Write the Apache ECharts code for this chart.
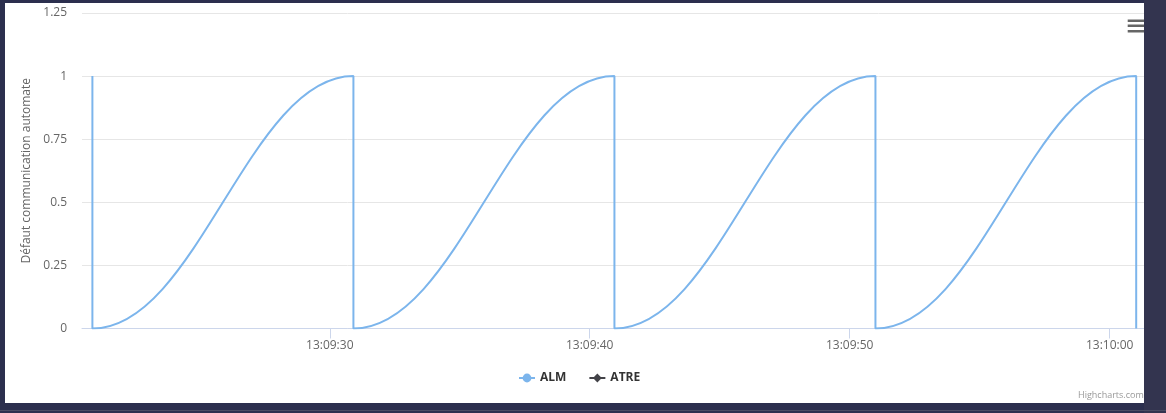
<!DOCTYPE html>
<html>
<head>
<meta charset="utf-8">
<script src="https://cdn.jsdelivr.net/npm/echarts@6/dist/echarts.min.js"></script>
<style>
  html, body { margin: 0; padding: 0; width: 1166px; height: 413px; overflow: hidden; background: #2c2f4e; }
  #rightband { position: absolute; left: 1144px; top: 0; width: 22px; height: 413px; background: #33344f; }
  #bottomline { position: absolute; left: 0; top: 410px; width: 1166px; height: 1px; background: #4a4c63; }
  #chart { position: absolute; left: 5px; top: 3px; width: 1139px; height: 400px; background: #ffffff; }
</style>
</head>
<body>
<div id="rightband"></div>
<div id="bottomline"></div>
<div id="chart"></div>
<script>
// ---- data ----
const chartDay = [2024, 0, 1];
const seriesNames = ['ALM', 'ATRE'];
const almTimes = [
  '13:09:20.870', '13:09:20.870',
  '13:09:30.910', '13:09:30.910',
  '13:09:40.950', '13:09:40.950',
  '13:09:50.990', '13:09:50.990',
  '13:10:01.020', '13:10:01.020'
];
const almValues = [1, 0, 1, 0, 1, 0, 1, 0, 1, 0];
const atreTimes = [];
const atreValues = [];
const xTickLabels = ['13:09:30', '13:09:40', '13:09:50', '13:10:00'];
const xRange = ['13:09:20.470', '13:10:01.320'];
const yTicks = [0, 0.25, 0.5, 0.75, 1, 1.25];
const yTitle = 'Défaut communication automate';
const creditText = 'Highcharts.com';

function toMs(s) {
  const p = s.split(':');
  const sec = parseFloat(p[2]);
  const whole = Math.floor(sec);
  const ms = Math.round((sec - whole) * 1000);
  return Date.UTC(chartDay[0], chartDay[1], chartDay[2], +p[0], +p[1], whole, ms);
}
function pairs(times, vals) { return times.map((t, i) => [toMs(t), vals[i]]); }

const chart = echarts.init(document.getElementById('chart'), null, { renderer: 'canvas' });
const FONT = '"Open Sans", "DejaVu Sans", sans-serif';

chart.setOption({
  useUTC: true,
  animation: false,
  backgroundColor: '#ffffff',
  grid: { left: 77, right: 0, top: 10, bottom: 74.5, containLabel: false },
  xAxis: {
    type: 'time',
    min: toMs(xRange[0]),
    max: toMs(xRange[1]),
    axisLine: { show: true, lineStyle: { color: '#ccd6eb', width: 1 } },
    axisTick: { show: true, length: 10, lineStyle: { color: '#ccd6eb' }, customValues: xTickLabels.map(toMs) },
    axisLabel: {
      customValues: xTickLabels.map(toMs),
      formatter: '{HH}:{mm}:{ss}',
      color: '#666666', fontSize: 12, fontFamily: FONT, margin: 11
    },
    splitLine: { show: false }
  },
  yAxis: {
    type: 'value',
    min: yTicks[0],
    max: yTicks[yTicks.length - 1],
    interval: yTicks[1] - yTicks[0],
    name: yTitle,
    nameLocation: 'middle',
    nameRotate: 90,
    nameGap: 47,
    nameTextStyle: { color: '#666666', fontSize: 12, fontFamily: FONT },
    axisLine: { show: false },
    axisTick: { show: false },
    axisLabel: { color: '#666666', fontSize: 12, fontFamily: FONT, margin: 15 },
    splitLine: { show: true, lineStyle: { color: '#e6e6e6', width: 1 } }
  },
  legend: {
    data: seriesNames,
    left: 508,
    top: 364,
    itemWidth: 16,
    itemHeight: 11,
    itemGap: 22,
    textStyle: { color: '#333333', fontSize: 12, fontWeight: 'bold', fontFamily: FONT }
  },
  series: [
    {
      name: seriesNames[0],
      type: 'line',
      data: pairs(almTimes, almValues),
      smooth: 0.4,
      smoothMonotone: 'x',
      showSymbol: false,
      symbol: 'circle',
      symbolSize: 8,
      color: '#7cb5ec',
      lineStyle: { color: '#7cb5ec', width: 2 },
      clip: true
    },
    {
      name: seriesNames[1],
      type: 'line',
      data: pairs(atreTimes, atreValues),
      showSymbol: false,
      symbol: 'diamond',
      symbolSize: 8,
      color: '#434348',
      lineStyle: { color: '#434348', width: 2 }
    }
  ],
  graphic: [
    {
      type: 'group',
      left: 1122.7, top: 16.5,
      children: [
        { type: 'rect', shape: { x: 0, y: 0, width: 24, height: 2.5 }, style: { fill: '#666666' } },
        { type: 'rect', shape: { x: 0, y: 5, width: 24, height: 2.5 }, style: { fill: '#666666' } },
        { type: 'rect', shape: { x: 0, y: 10.5, width: 24, height: 2.5 }, style: { fill: '#666666' } }
      ]
    },
    {
      type: 'text',
      left: 1073, top: 388,
      style: { text: creditText, fill: '#999999', fontSize: 9, fontFamily: FONT }
    }
  ]
});
</script>
</body>
</html>
